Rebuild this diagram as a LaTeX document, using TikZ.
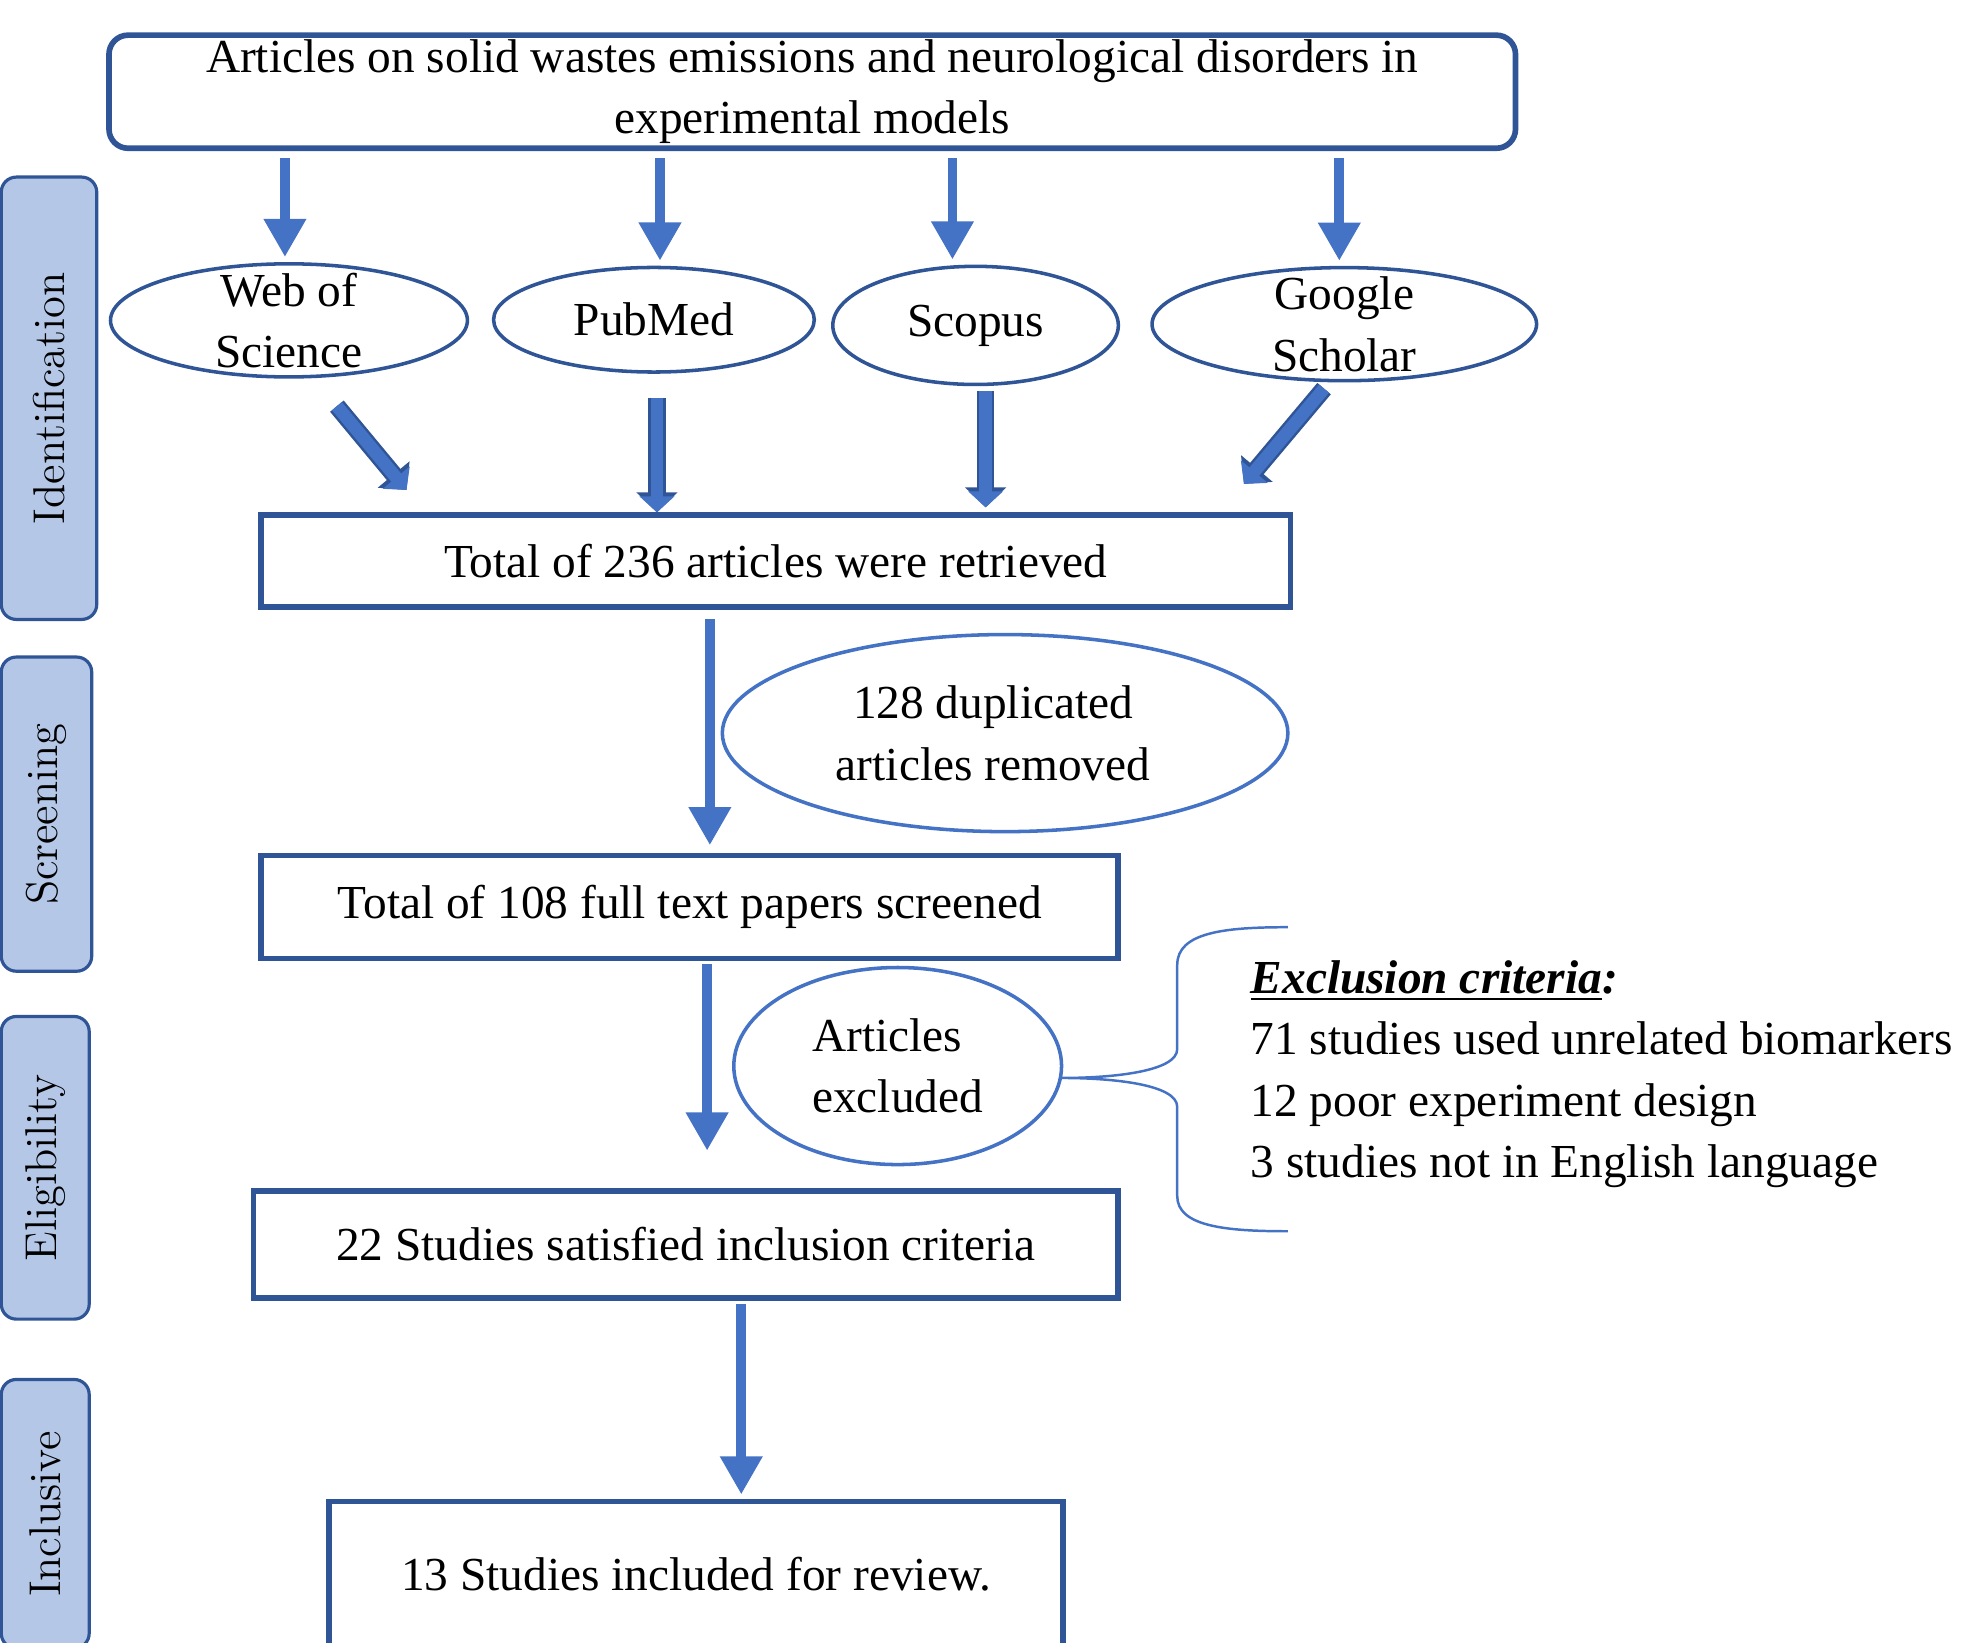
\documentclass[tikz,border=0pt]{standalone}
\usepackage{fontspec}
\setmainfont{Liberation Serif}
\newfontfamily\sidefont{Latin Modern Roman}
\usetikzlibrary{positioning,shapes.geometric,arrows.meta}

\definecolor{boxblue}{HTML}{2F5597}
\definecolor{arrowblue}{HTML}{4472C4}
\definecolor{sidefill}{HTML}{B4C7E7}

\begin{document}
\begin{tikzpicture}[x=0.0125cm, y=-0.0125cm,
   font=\fontsize{13.4}{17.4}\selectfont,
   box/.style={rectangle, draw=boxblue, line width=1.6pt, inner sep=0pt, align=center},
   db/.style={ellipse, draw=boxblue, line width=1pt, inner sep=0pt},
   side/.style={rectangle, rounded corners=0.15cm, draw=boxblue, line width=0.9pt, fill=sidefill,
                rotate=90, inner sep=0pt, font=\sidefont\fontsize{12.6}{15}\selectfont},
   flowarr/.style={arrowblue, line width=2.8pt, -{Triangle[width=0.4cm,length=0.38cm]}},
   blockarr/.style={arrowblue, line width=3.6pt, -{Triangle[width=0.34cm,length=0.16cm]},
                    preaction={draw=boxblue, line width=5pt, -{Triangle[width=0.4cm,length=0.2cm]}}}]
   \useasboundingbox (0,0) rectangle (1568,1307);
   \clip (0,0) rectangle (1568,1307);

   % phases
   \node[side, minimum width=4.4cm,   minimum height=0.95cm]  (ident)  at (39,317)   {Identification};
   \node[side, minimum width=3.125cm, minimum height=0.9cm]   (screen) at (37,648)   {Screening};
   \node[side, minimum width=3.01cm,  minimum height=0.875cm] (eligb)  at (36,929.5) {Eligibility};
   \node[side, minimum width=2.675cm, minimum height=0.875cm] (inclus) at (36,1205)  {Inclusive};

   % search
   \node[box, rounded corners=0.19cm, minimum width=13.99cm, minimum height=1.125cm] (top) at (646.5,73)
        {Articles on solid wastes emissions and neurological disorders in\\experimental models};

   \node[db, minimum width=3.55cm,  minimum height=1.125cm] (wos)     at (230,255)   {};
   \node[db, minimum width=3.19cm,  minimum height=1.04cm]  (pubmed)  at (520.5,254.5) {};
   \node[db, minimum width=2.84cm,  minimum height=1.175cm] (scopus)  at (776.5,259) {};
   \node[db, minimum width=3.825cm, minimum height=1.125cm] (scholar) at (1070,258)  {};
   \node[align=center] (wostxt)     at (wos)     {Web of\\Science};
   \node               (pubmedtxt)  at (pubmed)  {PubMed};
   \node               (scopustxt)  at (scopus)  {Scopus};
   \node[align=center] (scholartxt) at (scholar) {Google\\Scholar};

   % flow
   \node[box, minimum width=10.24cm, minimum height=0.91cm]  (retr) at (617.5,446.5) {Total of 236 articles were retrieved};
   \node[db, draw=arrowblue, minimum width=5.625cm, minimum height=1.96cm] (dup) at (800,583.5) {};
   \node[align=center] (duptxt) at ([xshift=-0.12cm]dup.center) {128 duplicated\\articles removed};
   \node[box, minimum width=8.525cm, minimum height=1.025cm] (scr)  at (549,722)   {Total of 108 full text papers screened};
   \node[db, draw=arrowblue, minimum width=3.26cm, minimum height=1.96cm] (excl) at (714.5,848.5) {};
   \node[align=left] (excltxt) at (excl) {Articles\\excluded};
   \node[box, minimum width=8.6cm,   minimum height=1.06cm]  (elig) at (546,990.5) {22 Studies satisfied inclusion criteria};
   \node[box, minimum width=7.3cm,   minimum height=1.45cm]  (incl) at (554,1253)  {13 Studies included for review.};

   % exclusion criteria
   \coordinate (bracetip) at (845,858);
   \draw[arrowblue, line width=0.7pt] (1025,738) .. controls (975,738) and (937,742) .. (937,768)
        -- (937,835) .. controls (937,853) and (885,858) .. (bracetip)
        .. controls (885,858) and (937,863) .. (937,881)
        -- (937,952) .. controls (937,976) and (975,980) .. (1025,980);
   \node[align=left, anchor=west, inner sep=0pt] (crit) at (995,855)
        {\underline{\textbf{\textit{Exclusion criteria}}}\textbf{\textit{:}}\\
         71 studies used unrelated biomarkers\\
         12 poor experiment design\\
         3 studies not in English language};

   % arrows
   \foreach \db/\dx in {wos/-0.04, pubmed/0.06, scopus/-0.23, scholar/-0.05}
      \draw[flowarr, shorten <=0.07cm, shorten >=0.05cm]
         ([xshift=\dx cm]\db.north |- top.south) -- ([xshift=\dx cm]\db.north);

   \draw[blockarr, shorten <=0.355cm, shorten >=0.29cm] ([xshift=0.25cm]wos.south) -- ([xshift=1.66cm]retr.north west);
   \draw[blockarr, shorten <=0.24cm] ([xshift=0.03cm]pubmed.south) -- ([xshift=0.03cm]pubmed.south |- retr.north);
   \draw[blockarr, shorten <=0.05cm, shorten >=0.05cm] ([xshift=0.1cm]scopus.south) -- ([xshift=0.1cm]scopus.south |- retr.north);
   \draw[blockarr, shorten <=0.08cm, shorten >=0.37cm] ([xshift=-0.15cm]scholar.south) -- ([xshift=-0.73cm]retr.north east);

   \draw[flowarr, shorten <=0.09cm, shorten >=0.075cm] ([xshift=0.2cm]scr.north |- retr.south) -- ([xshift=0.2cm]scr.north);
   \draw[flowarr, shorten <=0.03cm, shorten >=0.375cm] ([xshift=0.21cm]elig.north |- scr.south) -- ([xshift=0.21cm]elig.north);
   \draw[flowarr, shorten <=0.03cm, shorten >=0.04cm]  ([xshift=0.45cm]incl.north |- elig.south) -- ([xshift=0.45cm]incl.north);
\end{tikzpicture}
\end{document}
